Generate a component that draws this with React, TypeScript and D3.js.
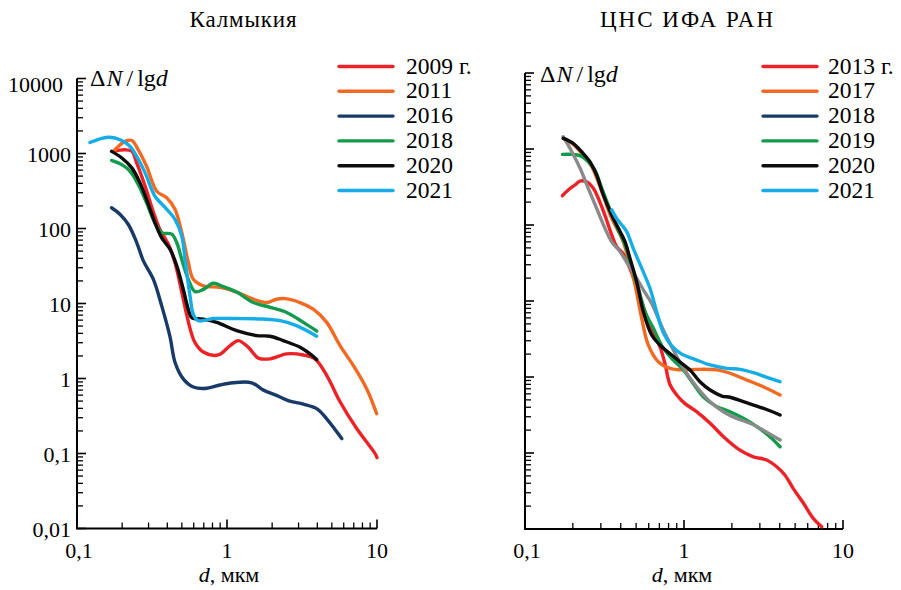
import React from "react";
import * as d3 from "d3";

type Pt = [number, number];

// ---------- Data: left panel (Калмыкия) ----------
const leftTitle = "Калмыкия";
const leftLabels = ["2009 г.", "2011", "2016", "2018", "2020", "2021"];
const left2009: Pt[] = [[0.175,1070],[0.209,1120],[0.232,1070],[0.25,750],[0.284,370],[0.323,165],[0.357,97],[0.406,62],[0.45,35],[0.5,14],[0.54,6.9],[0.575,4.2],[0.612,3.0],[0.695,2.25],[0.875,2.06],[1.05,2.75],[1.19,3.2],[1.39,2.6],[1.62,1.87],[1.94,1.83],[2.5,2.13],[3.23,2.06],[3.86,1.83],[4.62,1.1],[5.67,0.49],[7.32,0.215],[9.7,0.1],[10,0.088]];
const left2011: Pt[] = [[0.175,1070],[0.209,1450],[0.232,1490],[0.256,1120],[0.291,675],[0.34,314],[0.396,257],[0.45,180],[0.499,89],[0.552,35.5],[0.596,21],[0.695,17.2],[0.898,16.4],[1.16,14.2],[1.5,11.4],[1.84,10.3],[2.14,11.4],[2.44,11.6],[3.07,10.3],[3.76,8.4],[4.62,5.6],[5.67,2.74],[6.95,1.49],[8.53,0.73],[9.95,0.34]];
const left2016: Pt[] = [[0.17,189],[0.194,154],[0.22,113],[0.25,65],[0.277,37],[0.323,21],[0.367,9.3],[0.417,3.6],[0.45,1.65],[0.511,0.99],[0.596,0.77],[0.732,0.74],[0.898,0.82],[1.1,0.877],[1.46,0.877],[1.75,0.7],[2.14,0.595],[2.56,0.506],[3.23,0.454],[3.96,0.396],[4.62,0.29],[5.82,0.158]];
const left2018: Pt[] = [[0.17,809],[0.199,710],[0.226,578],[0.256,386],[0.291,220],[0.331,119],[0.367,88],[0.428,84],[0.462,65],[0.499,39],[0.552,21],[0.612,14.4],[0.695,15.4],[0.81,18.6],[0.944,16.8],[1.16,14.2],[1.5,10.3],[1.94,8.9],[2.5,7.6],[3.23,5.6],[3.96,4.3]];
const left2020: Pt[] = [[0.17,1067],[0.199,871],[0.232,643],[0.263,406],[0.291,243],[0.331,119],[0.367,75],[0.417,53],[0.462,32],[0.511,15.5],[0.552,8.4],[0.582,6.5],[0.695,6.2],[0.853,5.6],[1.16,4.34],[1.58,3.73],[1.94,3.66],[2.37,3.2],[3.07,2.61],[3.58,2.13],[3.96,1.79]];
const left2021: Pt[] = [[0.122,1400],[0.161,1650],[0.199,1490],[0.226,1240],[0.25,915],[0.284,556],[0.331,269],[0.386,191],[0.45,132],[0.499,79],[0.525,39],[0.567,12.6],[0.596,7.2],[0.644,5.9],[0.81,6.3],[1.16,6.3],[1.74,6.2],[2.26,5.9],[2.91,5.06],[3.96,3.66]];

// ---------- Data: right panel (ЦНС ИФА РАН) ----------
const rightTitle = "ЦНС ИФА РАН";
const rightLabels = ["2013 г.", "2017", "2018", "2019", "2020", "2021"];
const right2013: Pt[] = [[0.172,243],[0.187,289],[0.206,336],[0.222,379],[0.244,371],[0.269,304],[0.289,225],[0.318,135],[0.351,74],[0.377,52],[0.415,42],[0.447,30],[0.492,18],[0.542,9.8],[0.611,4.8],[0.706,2.5],[0.759,1.5],[0.817,0.79],[0.9,0.58],[1.01,0.45],[1.2,0.35],[1.46,0.246],[1.77,0.164],[2.25,0.109],[2.73,0.089],[3.31,0.081],[3.83,0.066],[4.32,0.051],[4.87,0.034],[5.63,0.022],[6.5,0.0138],[7.35,0.0107]];
const right2017: Pt[] = [[0.174,1380],[0.197,1190],[0.227,880],[0.263,585],[0.304,274],[0.351,122],[0.406,67],[0.447,36.5],[0.492,16.3],[0.542,5.9],[0.596,2.64],[0.689,1.59],[0.817,1.3],[0.99,1.24],[1.2,1.26],[1.61,1.24],[1.95,1.12],[2.48,0.914],[3.15,0.745],[4.02,0.58]];
const right2018: Pt[] = [[0.174,1450],[0.197,920],[0.222,557],[0.25,304],[0.282,166],[0.318,91],[0.351,60],[0.396,44.6],[0.447,29.8],[0.504,19.9],[0.555,14],[0.626,9.3],[0.741,4.15],[0.857,2.27],[0.99,1.31],[1.2,0.745],[1.46,0.473],[1.77,0.349],[2.14,0.286],[2.6,0.246],[3.15,0.2],[4.02,0.148]];
const right2019: Pt[] = [[0.172,850],[0.197,850],[0.222,817],[0.25,680],[0.275,529],[0.304,304],[0.343,158],[0.386,86],[0.426,55],[0.469,27],[0.516,14.7],[0.569,7.2],[0.641,4.4],[0.741,2.4],[0.857,1.67],[0.99,1.24],[1.14,0.826],[1.32,0.55],[1.61,0.407],[1.95,0.349],[2.36,0.286],[2.87,0.222],[3.47,0.164],[4.02,0.121]];
const right2020: Pt[] = [[0.174,1380],[0.201,1190],[0.227,920],[0.256,680],[0.282,455],[0.311,248],[0.351,135],[0.396,82],[0.426,60],[0.457,36.5],[0.504,17.9],[0.555,7.2],[0.626,3.57],[0.724,2.5],[0.837,1.95],[0.967,1.51],[1.09,1.24],[1.26,0.867],[1.46,0.674],[1.73,0.562],[1.95,0.541],[2.36,0.473],[2.87,0.415],[3.47,0.36],[4.02,0.316]];
const right2021: Pt[] = [[0.351,158],[0.377,122],[0.406,100],[0.436,82],[0.48,49],[0.542,27],[0.611,14.7],[0.673,7.2],[0.741,3.85],[0.837,2.56],[0.967,2.0],[1.17,1.71],[1.46,1.44],[1.86,1.3],[2.25,1.26],[2.73,1.14],[3.31,0.99],[4.02,0.867]];

// ---------- Axis ticks ----------
const yTickValues = [0.01, 0.1, 1, 10, 100, 1000, 10000];
const yTickLabels = ["0,01", "0,1", "1", "10", "100", "1000", "10000"];
const xTickValues = [0.1, 1, 10];
const xTickLabels = ["0,1", "1", "10"];

// ---------- Colours ----------
const RED = "#ec2227";
const ORANGE = "#f26a22";
const NAVY = "#183a68";
const GREEN = "#139b4c";
const BLACK = "#0d0d0d";
const CYAN = "#16ade6";
const GRAY = "#8a8a8a";

const leftSeries = [
  { data: left2009, color: RED },
  { data: left2011, color: ORANGE },
  { data: left2016, color: NAVY },
  { data: left2018, color: GREEN },
  { data: left2020, color: BLACK },
  { data: left2021, color: CYAN },
];
const leftLegendColors = [RED, ORANGE, NAVY, GREEN, BLACK, CYAN];

const rightSeries = [
  { data: right2013, color: RED },
  { data: right2017, color: ORANGE },
  { data: right2019, color: GREEN },
  { data: right2018, color: GRAY },
  { data: right2020, color: BLACK },
  { data: right2021, color: CYAN },
];
const rightLegendColors = [RED, ORANGE, NAVY, GREEN, BLACK, CYAN];

const FONT = '"Liberation Serif"';
const txt = (size: number): React.CSSProperties => ({ fontFamily: FONT, fontSize: size });

type PanelProps = {
  x0: number; x1: number; y0: number; y1: number;
  series: { data: Pt[]; color: string }[];
  showYLabels: boolean;
  title: string; titleX: number; titleLen: number;
  legendLabels: string[]; legendColors: string[];
  legendX: number; labelX: number;
  ylabX: number; ylabY: number;
  xTitleX: number;
};

function Panel(p: PanelProps) {
  const x = d3.scaleLog().domain([0.1, 10]).range([p.x0, p.x1]);
  const y = d3.scaleLog().domain([0.01, 10000]).range([p.y0, p.y1]);
  const line = d3
    .line<Pt>()
    .x((d) => x(d[0]))
    .y((d) => y(d[1]))
    .curve(d3.curveCatmullRom.alpha(0.5));

  const yMinor: number[] = [];
  yTickValues.slice(0, -1).forEach((m) => {
    for (let k = 2; k <= 9; k++) yMinor.push(k * m);
  });
  const xMinor: number[] = [];
  xTickValues.slice(0, -1).forEach((m) => {
    for (let k = 2; k <= 9; k++) xMinor.push(k * m);
  });

  return (
    <g>
      {/* title */}
      <text x={p.titleX} y={27} textAnchor="middle" style={txt(23)}
        textLength={p.titleLen} lengthAdjust="spacing">{p.title}</text>

      {/* y axis */}
      <line x1={p.x0} x2={p.x0} y1={y(10000)} y2={p.y0} stroke="#000" strokeWidth={2} />
      {yTickValues.map((v) => (
        <line key={"ym" + v} x1={p.x0} x2={p.x0 + 9} y1={y(v)} y2={y(v)} stroke="#000" strokeWidth={1.6} />
      ))}
      {yMinor.map((v) => (
        <line key={"yn" + v} x1={p.x0} x2={p.x0 + 6} y1={y(v)} y2={y(v)} stroke="#000" strokeWidth={1.3} />
      ))}
      {p.showYLabels &&
        yTickValues.map((v, i) => (
          <text key={"yl" + v} x={v === 10000 ? p.x0 - 14 : p.x0 - 6}
            y={y(v) + (v === 10000 ? 13 : 8)} textAnchor="end" style={txt(22)}>
            {yTickLabels[i]}
          </text>
        ))}

      {/* x axis */}
      <line x1={p.x0 - 1} x2={p.x1} y1={p.y0} y2={p.y0} stroke="#000" strokeWidth={2} />
      {xTickValues.map((v) => (
        <line key={"xm" + v} x1={x(v)} x2={x(v)} y1={p.y0} y2={p.y0 - 9} stroke="#000" strokeWidth={1.6} />
      ))}
      {xMinor.map((v) => (
        <line key={"xn" + v} x1={x(v)} x2={x(v)} y1={p.y0} y2={p.y0 - 6} stroke="#000" strokeWidth={1.3} />
      ))}
      {xTickValues.map((v, i) => (
        <text key={"xl" + v} x={x(v) + (i === 0 ? 2 : 0)} y={p.y0 + 29} textAnchor="middle" style={txt(22)}>
          {xTickLabels[i]}
        </text>
      ))}
      <text x={p.xTitleX} y={582} textAnchor="middle" style={txt(22)}>
        <tspan fontStyle="italic">d</tspan>
        <tspan>, мкм</tspan>
      </text>

      {/* y label */}
      <text x={p.ylabX} y={p.ylabY} style={txt(24)}>
        <tspan>Δ</tspan>
        <tspan dx={1} fontStyle="italic">N</tspan>
        <tspan dx={4}>/</tspan>
        <tspan dx={4}>lg</tspan>
        <tspan fontStyle="italic">d</tspan>
      </text>

      {/* curves */}
      {p.series.map((s, i) => (
        <path key={"s" + i} d={line(s.data) || ""} fill="none" stroke={s.color}
          strokeWidth={3.4} strokeLinejoin="round" strokeLinecap="round" />
      ))}

      {/* legend */}
      {p.legendLabels.map((lab, i) => {
        const ly = 66.5 + i * 24.8;
        return (
          <g key={"lg" + i}>
            <line x1={p.legendX} x2={p.legendX + 54} y1={ly} y2={ly} stroke={p.legendColors[i]}
              strokeWidth={3.4} strokeLinecap="round" />
            <text x={p.labelX} y={ly + 7} style={txt(23.5)}>{lab}</text>
          </g>
        );
      })}
    </g>
  );
}

export default function App() {
  return (
    <svg width={901} height={590} viewBox="0 0 901 590"
      style={{ position: "absolute", left: 0, top: 0, background: "#fff" }}>
      <rect x={0} y={0} width={901} height={590} fill="#fff" />
      <Panel x0={77} x1={377} y0={528.5} y1={78.5} series={leftSeries} showYLabels={true}
        title={leftTitle} titleX={243} titleLen={107}
        legendLabels={leftLabels} legendColors={leftLegendColors} legendX={339} labelX={406}
        ylabX={90} ylabY={86} xTitleX={229} />
      <Panel x0={525} x1={843} y0={529} y1={73} series={rightSeries} showYLabels={false}
        title={rightTitle} titleX={686.5} titleLen={173}
        legendLabels={rightLabels} legendColors={rightLegendColors} legendX={763} labelX={828}
        ylabX={540} ylabY={82} xTitleX={682} />
    </svg>
  );
}
